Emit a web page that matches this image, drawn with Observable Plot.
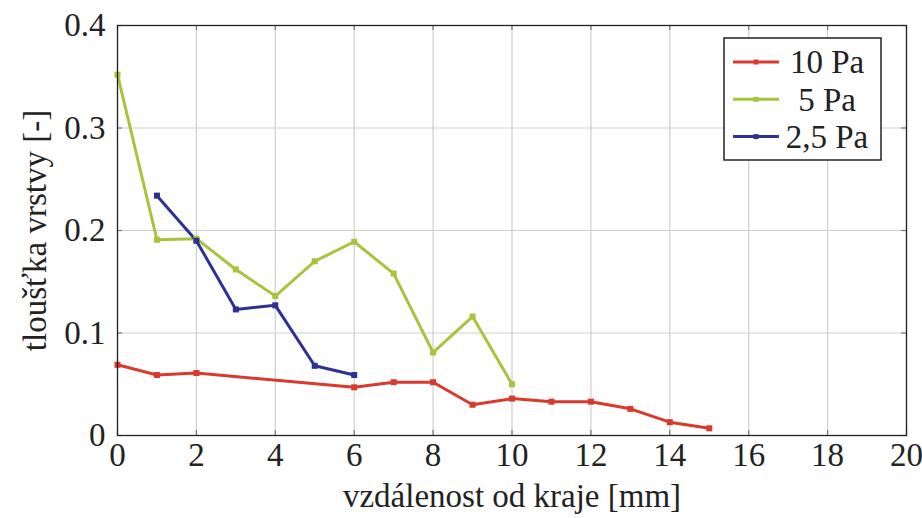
<!DOCTYPE html>
<html><head><meta charset="utf-8">
<script src="https://cdn.jsdelivr.net/npm/d3@7"></script>
<script src="https://cdn.jsdelivr.net/npm/@observablehq/plot@0.6"></script>
<style>
body{margin:0;background:#fff}
#chart svg text{font-family:"Liberation Serif" !important;}
</style>
</head><body><div id="chart"></div>
<script>
const xs10 = [0, 1, 2, 6, 7, 8, 9, 10, 11, 12, 13, 14, 15];
const ys10 = [0.069, 0.059, 0.061, 0.047, 0.052, 0.052, 0.030, 0.036, 0.033, 0.033, 0.026, 0.013, 0.007];
const xs5 = [0, 1, 2, 3, 4, 5, 6, 7, 8, 9, 10];
const ys5 = [0.352, 0.191, 0.192, 0.162, 0.136, 0.170, 0.189, 0.158, 0.081, 0.116, 0.050];
const xs25 = [1, 2, 3, 4, 5, 6];
const ys25 = [0.234, 0.190, 0.123, 0.127, 0.068, 0.059];
const seriesNames = ["10 Pa", "5 Pa", "2,5 Pa"];
const seriesColors = ["#d93a2b", "#a8c33c", "#2e3192"];
const xTicks = [0, 2, 4, 6, 8, 10, 12, 14, 16, 18, 20];
const yTicks = [0, 0.1, 0.2, 0.3, 0.4];
const xLabel = "vzdálenost od kraje [mm]";
const yLabel = "tloušťka vrstvy [-]";

const seriesX = [xs10, xs5, xs25];
const seriesY = [ys10, ys5, ys25];
const rows = [];
seriesNames.forEach((s, i) => seriesX[i].forEach((x, j) => rows.push({s, x, y: seriesY[i][j]})));

const W = 922, H = 518, mL = 117, mR = 16, mT = 25, mB = 83;
const pw = W - mL - mR, ph = H - mT - mB;

const chart = Plot.plot({
  width: W, height: H,
  marginLeft: mL, marginRight: mR, marginTop: mT, marginBottom: mB,
  style: {fontSize: "33px", background: "#fff", color: "#222"},
  x: {domain: [0, 20]},
  y: {domain: [0, 0.4]},
  color: {domain: seriesNames, range: seriesColors},
  marks: [
    Plot.gridX(xTicks, {stroke: "#cfcfcf", strokeOpacity: 1, strokeWidth: 1.2}),
    Plot.gridY(yTicks, {stroke: "#cfcfcf", strokeOpacity: 1, strokeWidth: 1.2}),
    Plot.line(rows, {x: "x", y: "y", z: "s", stroke: "s", strokeWidth: 3}),
    Plot.dot(rows, {x: "x", y: "y", fill: "s", symbol: "square", r: 3.4}),
    Plot.ruleX(xTicks, {x: d => d, insetTop: ph - 5, stroke: "#777", strokeWidth: 1.2}),
    Plot.ruleX(xTicks, {x: d => d, insetBottom: ph - 5, stroke: "#777", strokeWidth: 1.2}),
    Plot.ruleY(yTicks, {y: d => d, insetRight: pw - 5, stroke: "#777", strokeWidth: 1.2}),
    Plot.ruleY(yTicks, {y: d => d, insetLeft: pw - 5, stroke: "#777", strokeWidth: 1.2}),
    Plot.frame({stroke: "#222", strokeWidth: 1.3}),
    Plot.axisX(xTicks, {tickSize: 0, tickPadding: 7, label: null, fill: "#222"}),
    Plot.axisY(yTicks, {tickSize: 0, tickPadding: 12, label: null, fill: "#222", tickFormat: d => d === 0 ? "0" : String(d)}),
    Plot.text([xLabel], {text: d => d, frameAnchor: "bottom", dy: 61, textAnchor: "middle", lineAnchor: "middle", fill: "#222"}),
    Plot.text([yLabel], {text: d => d, frameAnchor: "left", dx: -82, rotate: -90, textAnchor: "middle", lineAnchor: "middle", fill: "#222"})
  ]
});
document.getElementById("chart").appendChild(chart);

// legend (inside plot, top-right)
const svg = d3.select(chart);
const lg = svg.append("g");
const bx = 724, by = 38, bw = 157, bh = 122;
lg.append("rect").attr("x", bx).attr("y", by).attr("width", bw).attr("height", bh)
  .attr("fill", "#fff").attr("stroke", "#222").attr("stroke-width", 1.5);
seriesNames.forEach((name, i) => {
  const cy = 62 + i * 37.3;
  lg.append("line").attr("x1", 733).attr("x2", 779).attr("y1", cy).attr("y2", cy)
    .attr("stroke", seriesColors[i]).attr("stroke-width", 3);
  lg.append("rect").attr("x", 756 - 2.5).attr("y", cy - 2.5).attr("width", 5).attr("height", 5)
    .attr("fill", seriesColors[i]);
  lg.append("text").attr("x", 827).attr("y", cy).attr("dy", "0.34em")
    .attr("text-anchor", "middle").attr("fill", "#222")
    .style("font-size", "33px").text(name);
});
</script>
</body></html>
